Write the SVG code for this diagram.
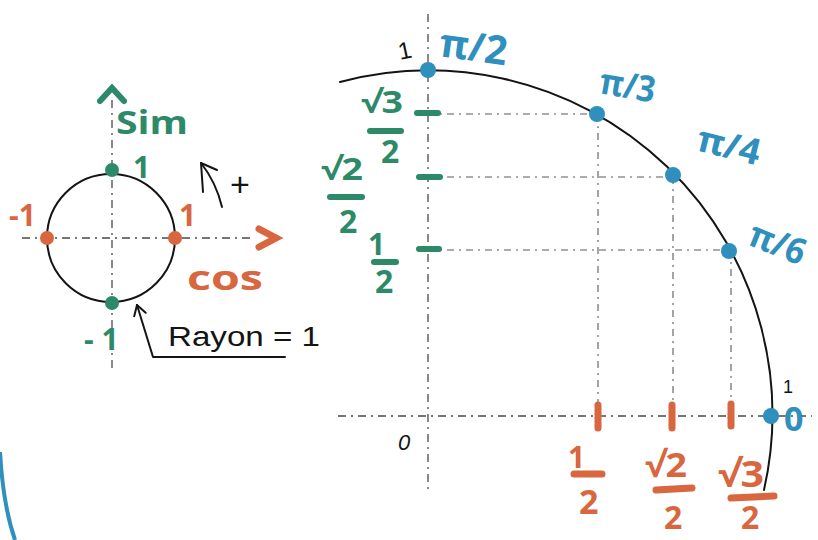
<svg xmlns="http://www.w3.org/2000/svg" width="818" height="540" viewBox="0 0 818 540">
<defs>
<style>
.ax{stroke:#4a4a4a;stroke-width:1.3;fill:none;stroke-dasharray:8 5 2 5}
.gd{stroke:#5a5a5a;stroke-width:1.1;fill:none;stroke-dasharray:7 5 2 5}
.ink{stroke:#141414;stroke-width:2;fill:none;stroke-linecap:round;stroke-linejoin:round}
.g{fill:#2d8a69}
.o{fill:#d8663f}
.b{fill:#2f8fbd}
.gs{stroke:#2d8a69;stroke-width:6;stroke-linecap:round;fill:none}
.os{stroke:#d8663f;stroke-width:7;stroke-linecap:round;fill:none}
.t{font-family:"Open Sans","DejaVu Sans",sans-serif;font-weight:700}
.h{font-family:"Liberation Sans","DejaVu Sans",sans-serif;font-weight:400;fill:#141414}
</style>
<marker id="ah" viewBox="0 0 14 14" refX="12" refY="7" markerWidth="14" markerHeight="14" markerUnits="userSpaceOnUse" orient="auto">
<path d="M2,1 L12,7 L2,13" fill="none" stroke="#141414" stroke-width="2" stroke-linecap="round" stroke-linejoin="round"/>
</marker>
</defs>
<rect width="818" height="540" fill="#ffffff"/>

<g id="connectors">
<!-- left small circle axes -->
<line class="ax" x1="112" y1="100" x2="112" y2="372"/>
<line class="ax" x1="22" y1="238" x2="254" y2="238"/>
<polyline class="gs" points="100,101 112,88 124,101"/>
<polyline class="os" points="259,229 276,238 259,247"/>
<!-- big quarter circle axes -->
<line class="ax" x1="428" y1="14" x2="428" y2="492"/>
<line class="ax" x1="338" y1="416" x2="812" y2="416"/>
<!-- projection dashes -->
<line class="gd" x1="428" y1="114" x2="597" y2="114"/>
<line class="gd" x1="428" y1="177" x2="673" y2="177"/>
<line class="gd" x1="428" y1="250" x2="729" y2="250"/>
<line class="gd" x1="598" y1="114" x2="598" y2="416"/>
<line class="gd" x1="673" y1="177" x2="673" y2="416"/>
<line class="gd" x1="731" y1="250" x2="731" y2="416"/>
<!-- Rayon pointer -->
<path class="ink" d="M285,357 L153,357 L137,305" marker-end="url(#ah)"/>
<!-- rotation sense arrow -->
<path class="ink" d="M222,207 Q216,182 201,163"/>
<path class="ink" d="M203,192 L201,163 L217,170"/>
</g>

<g id="unit-circle-small">
<circle cx="111" cy="238" r="64" class="ink"/>
</g>

<g id="sin-label"><text class="t g" x="116" y="134" font-size="32" textLength="72" lengthAdjust="spacingAndGlyphs">Sim</text></g>
<g id="cos-label"><text class="t o" x="187" y="290" font-size="34" textLength="76" lengthAdjust="spacingAndGlyphs">cos</text></g>

<g id="pt-sin-1"><circle class="g" cx="112" cy="170" r="7"/><text class="t g" x="133" y="178" font-size="30">1</text></g>
<g id="pt-sin-m1"><circle class="g" cx="112" cy="303" r="7"/><text class="t g" x="84" y="350" font-size="30">- 1</text></g>
<g id="pt-cos-m1"><circle class="o" cx="47" cy="238" r="7"/><text class="t o" x="9" y="226" font-size="30">-1</text></g>
<g id="pt-cos-1"><circle class="o" cx="175" cy="238" r="7"/><text class="t o" x="179" y="226" font-size="30">1</text></g>

<g id="sense"><text class="h" x="230" y="196" font-size="34">+</text></g>
<g id="rayon"><text class="h" x="168" y="346" font-size="27" textLength="152" lengthAdjust="spacingAndGlyphs">Rayon = 1</text></g>

<g id="quarter-circle">
<path class="ink" d="M340,82 A344,344 0 0 1 764,490" stroke-width="2.3"/>
</g>

<g id="pt-pi2"><circle class="b" cx="428" cy="70" r="8"/><text class="t b" x="438" y="56" font-size="40" textLength="68" lengthAdjust="spacingAndGlyphs" transform="rotate(8 438 56)">π/2</text></g>
<g id="pt-pi3"><circle class="b" cx="597" cy="114" r="8"/><text class="t b" x="598" y="93" font-size="36" textLength="56" lengthAdjust="spacingAndGlyphs" transform="rotate(10 598 93)">π/3</text></g>
<g id="pt-pi4"><circle class="b" cx="673" cy="175" r="8"/><text class="t b" x="695" y="150" font-size="36" textLength="64" lengthAdjust="spacingAndGlyphs" transform="rotate(14 695 150)">π/4</text></g>
<g id="pt-pi6"><circle class="b" cx="729" cy="251" r="8"/><text class="t b" x="746" y="244" font-size="36" textLength="58" lengthAdjust="spacingAndGlyphs" transform="rotate(22 746 244)">π/6</text></g>
<g id="pt-zero"><circle class="b" cx="771" cy="416" r="8"/><text class="t b" x="784" y="431" font-size="34">0</text><text class="h" x="783" y="393" font-size="18">1</text></g>

<g id="label-1-top"><text class="h" x="400" y="60" font-size="24" transform="rotate(-12 400 60)">1</text></g>
<g id="label-origin"><text class="h" x="398" y="450" font-size="22" font-style="italic">0</text></g>

<g id="sin-sqrt3-2">
<line class="gs" x1="417" y1="113" x2="438" y2="113"/>
<text class="t g" x="361" y="113" font-size="30" textLength="42" lengthAdjust="spacingAndGlyphs">√3</text>
<line class="gs" x1="370" y1="131" x2="401" y2="131"/>
<text class="t g" x="381" y="163" font-size="32">2</text>
</g>
<g id="sin-sqrt2-2">
<line class="gs" x1="419" y1="177" x2="440" y2="177"/>
<text class="t g" x="321" y="180" font-size="30" textLength="42" lengthAdjust="spacingAndGlyphs">√2</text>
<line class="gs" x1="330" y1="197" x2="362" y2="197"/>
<text class="t g" x="339" y="233" font-size="32">2</text>
</g>
<g id="sin-1-2">
<line class="gs" x1="419" y1="249" x2="439" y2="249"/>
<text class="t g" x="368" y="255" font-size="30">1</text>
<line class="gs" x1="374" y1="262" x2="396" y2="262"/>
<text class="t g" x="375" y="293" font-size="32">2</text>
</g>

<g id="cos-1-2">
<line class="os" x1="598" y1="405" x2="598" y2="428"/>
<text class="t o" x="568" y="468" font-size="30">1</text>
<line class="os" x1="574" y1="474" x2="602" y2="474"/>
<text class="t o" x="579" y="514" font-size="34">2</text>
</g>
<g id="cos-sqrt2-2">
<line class="os" x1="672" y1="405" x2="672" y2="428"/>
<text class="t o" x="645" y="477" font-size="34" textLength="42" lengthAdjust="spacingAndGlyphs">√2</text>
<line class="os" x1="656" y1="490" x2="692" y2="488"/>
<text class="t o" x="664" y="529" font-size="32">2</text>
</g>
<g id="cos-sqrt3-2">
<line class="os" x1="731" y1="404" x2="731" y2="426"/>
<text class="t o" x="718" y="487" font-size="36" textLength="46" lengthAdjust="spacingAndGlyphs">√3</text>
<line class="os" x1="731" y1="498" x2="774" y2="496"/>
<text class="t o" x="741" y="529" font-size="32">2</text>
</g>

<path d="M0,452 Q3,505 15,540" fill="none" stroke="#2f8fbd" stroke-width="4"/>
</svg>
